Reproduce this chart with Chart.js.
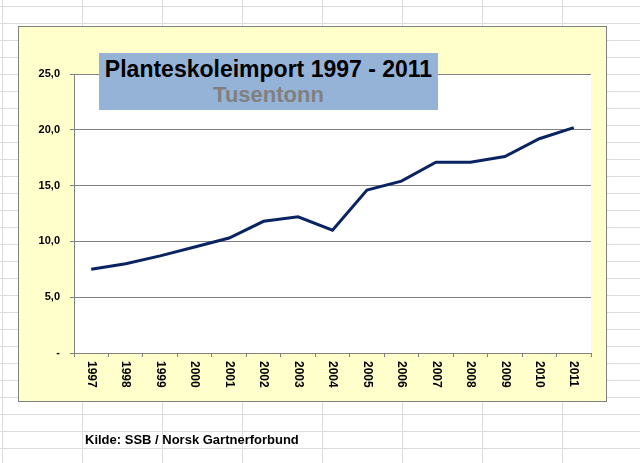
<!DOCTYPE html>
<html>
<head>
<meta charset="utf-8">
<script src="https://cdn.jsdelivr.net/npm/chart.js@4/dist/chart.umd.min.js"></script>
<style>
  html, body { margin: 0; padding: 0; }
  body {
    width: 640px; height: 463px; overflow: hidden; position: relative;
    background-color: #ffffff;
    background-image:
      linear-gradient(to bottom, #dadcdd 1px, transparent 1px),
      linear-gradient(to right, #dadcdd 1px, transparent 1px);
    background-size: 100% 17px, 80px 100%;
    background-position: 0 6px, 2px 0;
    font-family: "Liberation Sans", Arial, sans-serif;
  }
  #frame {
    position: absolute; left: 18px; top: 26px; width: 587px; height: 374px;
    background: #ffffcc; border: 1px solid #808080;
  }
  #c { position: absolute; left: 0; top: 0; }
  #titlebox {
    position: absolute; left: 99px; top: 53px; width: 339px; height: 57px;
    background: #95b3d7;
  }
  .t { position: absolute; white-space: nowrap; font-weight: bold; line-height: 1; }
  #title { left: 99px; width: 339px; text-align: center; top: 57.5px; font-size: 23px; color: #000; }
  #sub { left: 99px; width: 339px; text-align: center; top: 84.4px; font-size: 22px; color: #808080; }
  #src { left: 85px; top: 433px; font-size: 13px; color: #000; }
</style>
</head>
<body>
<div id="frame"></div>
<canvas id="c" width="640" height="463"></canvas>
<div id="titlebox"></div>
<div class="t" id="title">Planteskoleimport 1997 - 2011</div>
<div class="t" id="sub">Tusentonn</div>
<div class="t" id="src">Kilde: SSB / Norsk Gartnerforbund</div>
<script>
const years = ['1997','1998','1999','2000','2001','2002','2003','2004','2005','2006','2007','2008','2009','2010','2011'];
const importValues = [7.5, 8.0, 8.7, 9.5, 10.3, 11.8, 12.2, 11.0, 14.6, 15.4, 17.1, 17.1, 17.6, 19.2, 20.2];
const yTickValues = [0, 5, 10, 15, 20, 25];
const yTickLabels = ['-', '5,0', '10,0', '15,0', '20,0', '25,0'];

const plotBg = {
  id: 'plotBg',
  beforeDraw(chart) {
    const a = chart.chartArea, ctx = chart.ctx;
    ctx.save();
    ctx.fillStyle = '#ffffff';
    ctx.fillRect(a.left, a.top, a.right - a.left, a.bottom - a.top);
    ctx.restore();
  }
};

const xLabels = {
  id: 'xLabels',
  afterDraw(chart) {
    const xs = chart.scales.x, ctx = chart.ctx;
    ctx.save();
    ctx.fillStyle = '#000000';
    ctx.font = 'bold 12px "Liberation Sans", Arial, sans-serif';
    ctx.textAlign = 'left';
    ctx.textBaseline = 'middle';
    years.forEach((lab, i) => {
      const x = xs.getPixelForTick(i);
      ctx.save();
      ctx.translate(x, xs.top + 8);
      ctx.rotate(Math.PI / 2);
      ctx.fillText(lab, 0, 0);
      ctx.restore();
    });
    ctx.restore();
  }
};

new Chart(document.getElementById('c'), {
  type: 'line',
  data: {
    labels: years,
    datasets: [{
      data: importValues,
      borderColor: '#0a2462',
      borderWidth: 3,
      pointRadius: 0,
      tension: 0,
      fill: false
    }]
  },
  options: {
    responsive: false,
    devicePixelRatio: 1,
    animation: false,
    layout: { padding: { left: 0, top: 74, right: 49, bottom: 70 } },
    plugins: { legend: { display: false }, tooltip: { enabled: false }, title: { display: false } },
    scales: {
      x: {
        type: 'category',
        offset: true,
        grid: { offset: true, drawOnChartArea: false, drawTicks: true, tickLength: 4, color: '#808080' },
        border: { display: true, color: '#808080', width: 1 },
        ticks: { display: false },
        afterFit(s) { s.height = 40; }
      },
      y: {
        min: 0, max: 25,
        afterBuildTicks(s) { s.ticks = yTickValues.map(v => ({ value: v })); },
        grid: { color: '#808080', drawTicks: true, tickLength: 4 },
        border: { display: true, color: '#808080', width: 1 },
        ticks: {
          padding: 10,
          color: '#000000',
          font: { family: '"Liberation Sans", Arial, sans-serif', size: 11, weight: 'bold' },
          callback(v, i) { return yTickLabels[yTickValues.indexOf(v)]; }
        },
        afterFit(s) { s.width = 74; }
      }
    }
  },
  plugins: [plotBg, xLabels]
});
</script>
</body>
</html>
